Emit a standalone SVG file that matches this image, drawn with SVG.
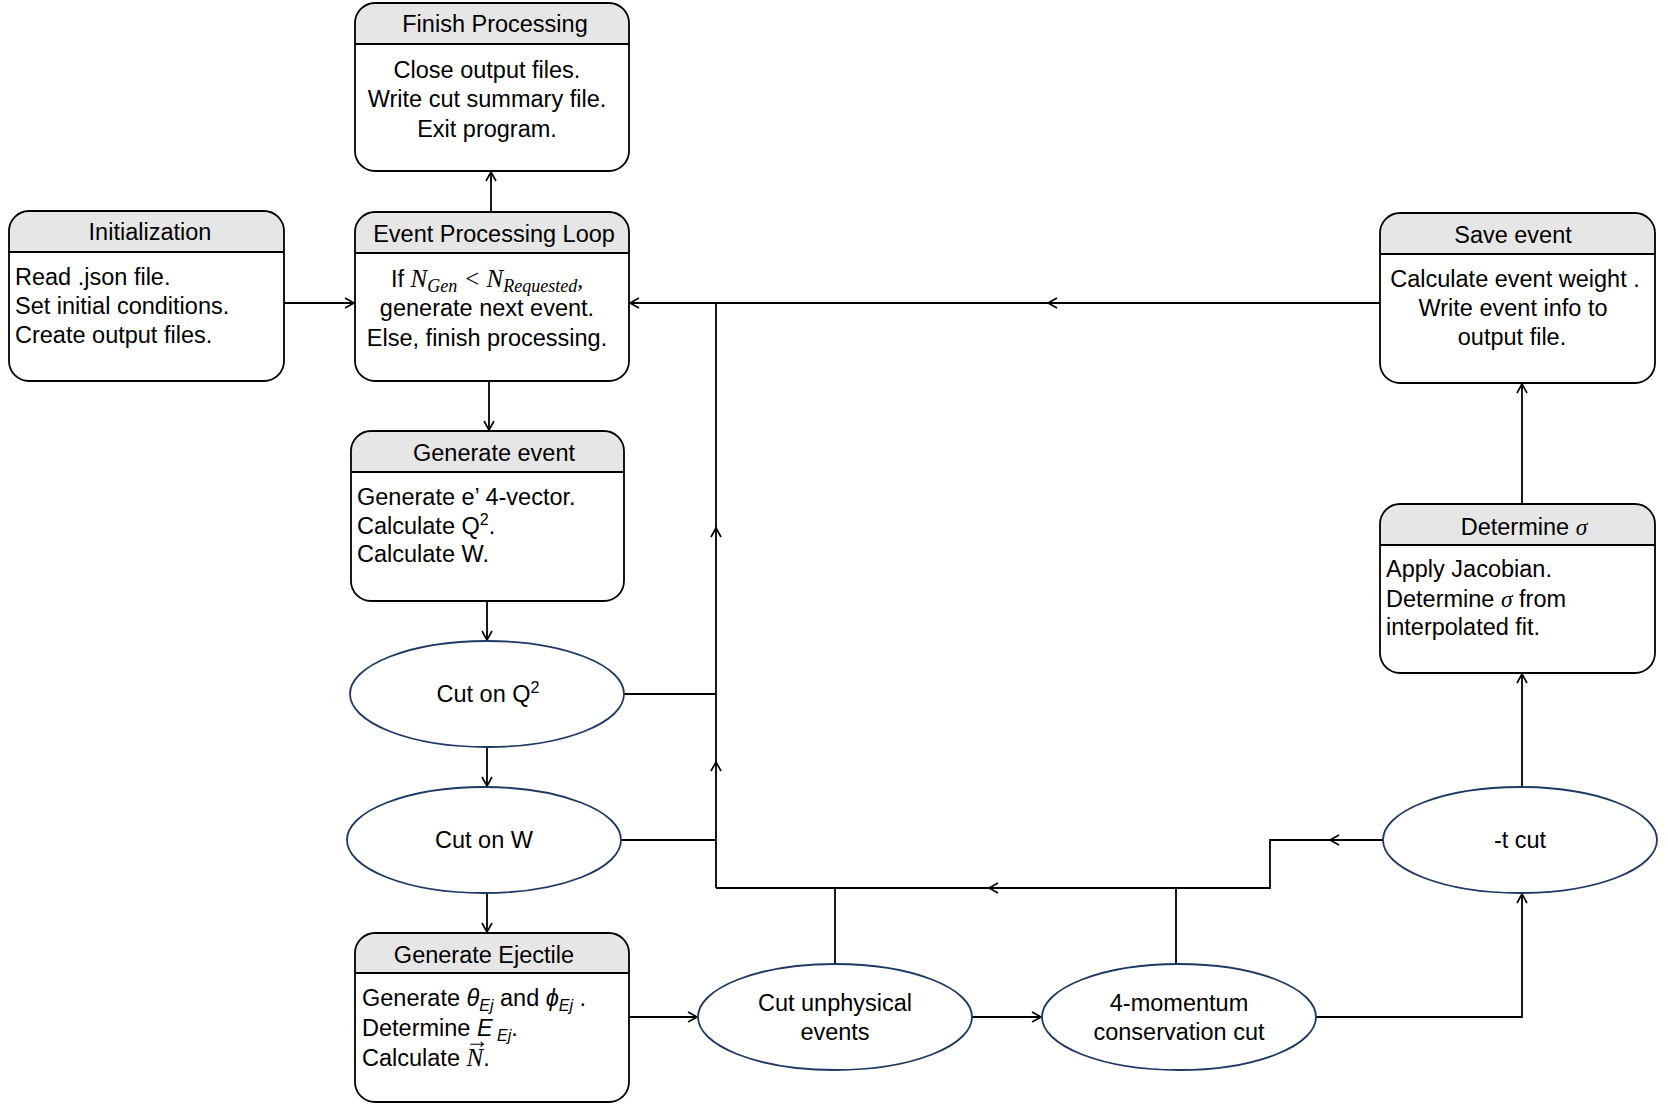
<svg xmlns="http://www.w3.org/2000/svg" width="1668" height="1108" viewBox="0 0 1668 1108">
<style>
.box{fill:none;stroke:#000;stroke-width:1.8}
.hdr{fill:#E6E6E6;stroke:none}
.ell{fill:#fff;stroke:#1F3864;stroke-width:1.8}
.t{font-family:"Liberation Sans",Arial,sans-serif;font-size:23.5px;fill:#000}
.c{text-anchor:middle}
.m{font-family:"Liberation Serif","Times New Roman",serif;font-style:italic}
.ln{fill:none;stroke:#000;stroke-width:1.8}
.ah{fill:none;stroke:#000;stroke-width:1.6}
</style>
<rect width="1668" height="1108" fill="#fff"/>
<g id="connectors">
<path class="ln" d="M491,212 V172"/><path class="ah" d="M486,181 L491,172 L496,181"/>
<path class="ln" d="M284,303 H354"/><path class="ah" d="M345,298 L354,303 L345,308"/>
<path class="ln" d="M489,381 V430"/><path class="ah" d="M484,421 L489,430 L494,421"/>
<path class="ln" d="M1380,303 H630"/><path class="ah" d="M639,298 L630,303 L639,308"/><path class="ah" d="M1057,298 L1048,303 L1057,308"/>
<path class="ln" d="M487,601 V640"/><path class="ah" d="M482,631 L487,640 L492,631"/>
<path class="ln" d="M487,747 V786"/><path class="ah" d="M482,777 L487,786 L492,777"/>
<path class="ln" d="M487,893 V932"/><path class="ah" d="M482,923 L487,932 L492,923"/>
<path class="ln" d="M624,694 H716"/>
<path class="ln" d="M621,840 H716"/>
<path class="ln" d="M716,888 V303"/><path class="ah" d="M711,537 L716,528 L721,537"/><path class="ah" d="M711,771 L716,762 L721,771"/>
<path class="ln" d="M716,888 H1270 V840 H1383"/><path class="ah" d="M998,883 L989,888 L998,893"/><path class="ah" d="M1339,835 L1330,840 L1339,845"/>
<path class="ln" d="M835,964 V888"/>
<path class="ln" d="M1176,964 V888"/>
<path class="ln" d="M629,1017 H697"/><path class="ah" d="M688,1012 L697,1017 L688,1022"/>
<path class="ln" d="M972,1017 H1041"/><path class="ah" d="M1032,1012 L1041,1017 L1032,1022"/>
<path class="ln" d="M1316,1017 H1522 V894"/><path class="ah" d="M1517,903 L1522,894 L1527,903"/>
<path class="ln" d="M1522,787 V674"/><path class="ah" d="M1517,683 L1522,674 L1527,683"/>
<path class="ln" d="M1522,504 V384"/><path class="ah" d="M1517,393 L1522,384 L1527,393"/>
</g>
<g id="finish">
<path class="hdr" d="M355,23 A20,20 0 0 1 375,3 H609 A20,20 0 0 1 629,23 V44 H355 Z"/>
<rect class="box" x="355" y="3" width="274" height="168" rx="20"/>
<line class="box" x1="355" y1="44" x2="629" y2="44"/>
<text class="t c" x="495" y="32">Finish Processing</text>
<text class="t c" x="487" y="78">Close output files.</text>
<text class="t c" x="487" y="107">Write cut summary file.</text>
<text class="t c" x="487" y="137">Exit program.</text>
</g>
<g id="init">
<path class="hdr" d="M9,231 A20,20 0 0 1 29,211 H264 A20,20 0 0 1 284,231 V252 H9 Z"/>
<rect class="box" x="9" y="211" width="275" height="170" rx="20"/>
<line class="box" x1="9" y1="252" x2="284" y2="252"/>
<text class="t c" x="150" y="240">Initialization</text>
<text class="t" x="15" y="285">Read .json file.</text>
<text class="t" x="15" y="314">Set initial conditions.</text>
<text class="t" x="15" y="343">Create output files.</text>
</g>
<g id="loop">
<path class="hdr" d="M355,232 A20,20 0 0 1 375,212 H609 A20,20 0 0 1 629,232 V253 H355 Z"/>
<rect class="box" x="355" y="212" width="274" height="169" rx="20"/>
<line class="box" x1="355" y1="253" x2="629" y2="253"/>
<text class="t c" x="494" y="242">Event Processing Loop</text>
<text class="t c" x="487" y="287">If <tspan class="m" font-size="25">N</tspan><tspan class="m" font-size="18" dy="5">Gen</tspan><tspan dy="-5" class="m" font-size="25"> &lt; N</tspan><tspan class="m" font-size="18" dy="5">Requested</tspan><tspan dy="-5" class="m">,</tspan></text>
<text class="t c" x="487" y="316">generate next event.</text>
<text class="t c" x="487" y="346">Else, finish processing.</text>
</g>
<g id="save">
<path class="hdr" d="M1380,233 A20,20 0 0 1 1400,213 H1635 A20,20 0 0 1 1655,233 V254 H1380 Z"/>
<rect class="box" x="1380" y="213" width="275" height="170" rx="20"/>
<line class="box" x1="1380" y1="254" x2="1655" y2="254"/>
<text class="t c" x="1513" y="243">Save event</text>
<text class="t c" x="1515" y="287">Calculate event weight .</text>
<text class="t c" x="1513" y="316">Write event info to</text>
<text class="t c" x="1512" y="345">output file.</text>
</g>
<g id="genevent">
<path class="hdr" d="M351,451 A20,20 0 0 1 371,431 H604 A20,20 0 0 1 624,451 V472 H351 Z"/>
<rect class="box" x="351" y="431" width="273" height="170" rx="20"/>
<line class="box" x1="351" y1="472" x2="624" y2="472"/>
<text class="t c" x="494" y="461">Generate event</text>
<text class="t" x="357" y="505">Generate e’ 4-vector.</text>
<text class="t" x="357" y="534">Calculate Q<tspan font-size="16" dy="-9">2</tspan><tspan dy="9">.</tspan></text>
<text class="t" x="357" y="562">Calculate W.</text>
</g>
<g id="determine">
<path class="hdr" d="M1380,524 A20,20 0 0 1 1400,504 H1635 A20,20 0 0 1 1655,524 V545 H1380 Z"/>
<rect class="box" x="1380" y="504" width="275" height="169" rx="20"/>
<line class="box" x1="1380" y1="545" x2="1655" y2="545"/>
<text class="t c" x="1524" y="535">Determine <tspan class="m">σ</tspan></text>
<text class="t" x="1386" y="577">Apply Jacobian.</text>
<text class="t" x="1386" y="607">Determine <tspan class="m">σ</tspan> from</text>
<text class="t" x="1386" y="635">interpolated fit.</text>
</g>
<g id="cutq2">
<ellipse class="ell" cx="487" cy="694" rx="137" ry="53"/>
<text class="t c" x="488" y="702">Cut on Q<tspan font-size="16" dy="-9">2</tspan></text>
</g>
<g id="cutw">
<ellipse class="ell" cx="484" cy="840" rx="137" ry="53"/>
<text class="t c" x="484" y="848">Cut on W</text>
</g>
<g id="genejectile">
<path class="hdr" d="M355,953 A20,20 0 0 1 375,933 H609 A20,20 0 0 1 629,953 V973 H355 Z"/>
<rect class="box" x="355" y="933" width="274" height="169" rx="20"/>
<line class="box" x1="355" y1="973" x2="629" y2="973"/>
<text class="t c" x="484" y="963">Generate Ejectile</text>
<text class="t" x="362" y="1006">Generate <tspan font-style="italic">θ</tspan><tspan font-style="italic" font-size="16" dy="5">Ej</tspan><tspan dy="-5"> and </tspan><tspan font-style="italic">ϕ</tspan><tspan font-style="italic" font-size="16" dy="5">Ej</tspan><tspan dy="-5"> .</tspan></text>
<text class="t" x="362" y="1036">Determine <tspan font-style="italic">E</tspan><tspan font-style="italic" font-size="16" dy="5"> Ej</tspan><tspan dy="-5">.</tspan></text>
<text class="t" x="362" y="1066">Calculate <tspan class="m" font-size="25">N</tspan>.</text>
<text class="t c" x="477" y="1048" font-size="12">→</text>
</g>
<g id="cutunphys">
<ellipse class="ell" cx="835" cy="1017" rx="137" ry="53"/>
<text class="t c" x="835" y="1011">Cut unphysical</text>
<text class="t c" x="835" y="1040">events</text>
</g>
<g id="fourmom">
<ellipse class="ell" cx="1179" cy="1017" rx="137" ry="53"/>
<text class="t c" x="1179" y="1011">4-momentum</text>
<text class="t c" x="1179" y="1040">conservation cut</text>
</g>
<g id="tcut">
<ellipse class="ell" cx="1520" cy="840" rx="137" ry="53"/>
<text class="t c" x="1520" y="848">-t cut</text>
</g>
</svg>
